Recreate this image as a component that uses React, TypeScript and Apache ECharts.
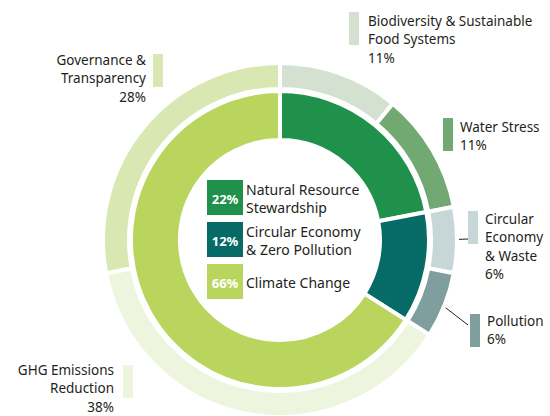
import React, { useEffect, useRef } from 'react';
import * as echarts from 'echarts';

// ---- data ----
const innerNames = ['Natural Resource\nStewardship', 'Circular Economy\n& Zero Pollution', 'Climate Change'];
const innerValues = [22, 12, 66];
const innerColors = ['#20914a', '#066a66', '#bad55e'];

const outerNames = [
  'Biodiversity & Sustainable\nFood Systems',
  'Water Stress',
  'Circular\nEconomy\n& Waste',
  'Pollution',
  'GHG Emissions\nReduction',
  'Governance &\nTransparency',
];
const outerValues = [11, 11, 6, 6, 38, 28];
const outerColors = ['#d4e1d1', '#72a872', '#c7d7d7', '#7f9f9f', '#edf5de', '#d9e8b2'];

// ---- layout (positions only) ----
const CX = 280;
const CY = 240;
const FONT = '"Noto Sans", "Lato", sans-serif';
const TEXT_COLOR = '#231f20';
const LINE_H = 18.3;
const outerLabelLayout = [
  { bx: 349, by: 12, tx: 368, ty: 12, align: 'left' },
  { bx: 443, by: 118, tx: 460, ty: 118, align: 'left' },
  { bx: 468, by: 211, tx: 485, ty: 210, align: 'left' },
  { bx: 470, by: 314, tx: 487, ty: 312, align: 'left' },
  { bx: 123, by: 365, tx: 114, ty: 361, align: 'right' },
  { bx: 153, by: 54, tx: 146, ty: 51, align: 'right' },
];
// leader lines: index of slice -> end point near its label bar
const leaderLines = [
  { idx: 2, ex: 468, ey: 239, r: 163 },
  { idx: 3, ex: 468, ey: 325, r: 172 },
];
const legendBox = { x: 207, y: 180, size: 36, h: 35, gap: 42, textX: 246 };

export default function App() {
  const ref = useRef<HTMLDivElement>(null);
  useEffect(() => {
    const chart = echarts.init(ref.current!, null, { renderer: 'svg' });
    const graphics: any[] = [];

    const outerTotal = outerValues.reduce((a, b) => a + b, 0);
    let cum = 0;
    const midAngles = outerValues.map((v) => {
      const m = ((cum + v / 2) / outerTotal) * Math.PI * 2;
      cum += v;
      return m;
    });

    outerNames.forEach((name, i) => {
      const L = outerLabelLayout[i];
      graphics.push({
        type: 'rect',
        silent: true,
        shape: { x: L.bx, y: L.by, width: 10, height: 33 },
        style: { fill: outerColors[i] },
      });
      graphics.push({
        type: 'text',
        silent: true,
        x: L.tx,
        y: L.ty,
        style: {
          text: `${name}\n${outerValues[i]}%`,
          fill: TEXT_COLOR,
          fontFamily: FONT,
          fontSize: 13.5,
          lineHeight: LINE_H,
          align: L.align,
          verticalAlign: 'top',
        },
      });
    });

    leaderLines.forEach((l) => {
      const a = midAngles[l.idx];
      graphics.push({
        type: 'line',
        silent: true,
        shape: { x1: CX + l.r * Math.sin(a), y1: CY - l.r * Math.cos(a), x2: l.ex, y2: l.ey },
        style: { stroke: '#231f20', lineWidth: 1 },
      });
    });

    innerNames.forEach((name, i) => {
      const y = legendBox.y + i * legendBox.gap;
      graphics.push({
        type: 'rect',
        silent: true,
        shape: { x: legendBox.x, y, width: legendBox.size, height: legendBox.h },
        style: { fill: innerColors[i] },
      });
      graphics.push({
        type: 'text',
        silent: true,
        x: legendBox.x + legendBox.size / 2,
        y: y + legendBox.h / 2 + 1,
        style: {
          text: `${innerValues[i]}%`,
          fill: '#ffffff',
          fontFamily: FONT,
          fontSize: 13,
          fontWeight: 'bold',
          align: 'center',
          verticalAlign: 'middle',
        },
      });
      graphics.push({
        type: 'text',
        silent: true,
        x: legendBox.textX,
        y: y + legendBox.h / 2 + 1,
        style: {
          text: name,
          fill: TEXT_COLOR,
          fontFamily: FONT,
          fontSize: 14,
          lineHeight: LINE_H,
          align: 'left',
          verticalAlign: 'middle',
        },
      });
    });

    chart.setOption({
      animation: false,
      series: [
        {
          type: 'pie',
          center: [CX, CY],
          radius: [100, 149],
          startAngle: 90,
          silent: true,
          label: { show: false },
          labelLine: { show: false },
          emphasis: { disabled: true },
          itemStyle: { borderColor: '#ffffff', borderWidth: 4 },
          data: innerValues.map((v, i) => ({ value: v, name: innerNames[i], itemStyle: { color: innerColors[i] } })),
        },
        {
          type: 'pie',
          center: [CX, CY],
          radius: [151, 177],
          startAngle: 90,
          silent: true,
          label: { show: false },
          labelLine: { show: false },
          emphasis: { disabled: true },
          itemStyle: { borderColor: '#ffffff', borderWidth: 4 },
          data: outerValues.map((v, i) => ({ value: v, name: outerNames[i], itemStyle: { color: outerColors[i] } })),
        },
      ],
      graphic: graphics,
    });
    return () => chart.dispose();
  }, []);
  return <div ref={ref} style={{ position: 'fixed', left: 0, top: 0, width: 550, height: 416, background: '#fff' }} />;
}
